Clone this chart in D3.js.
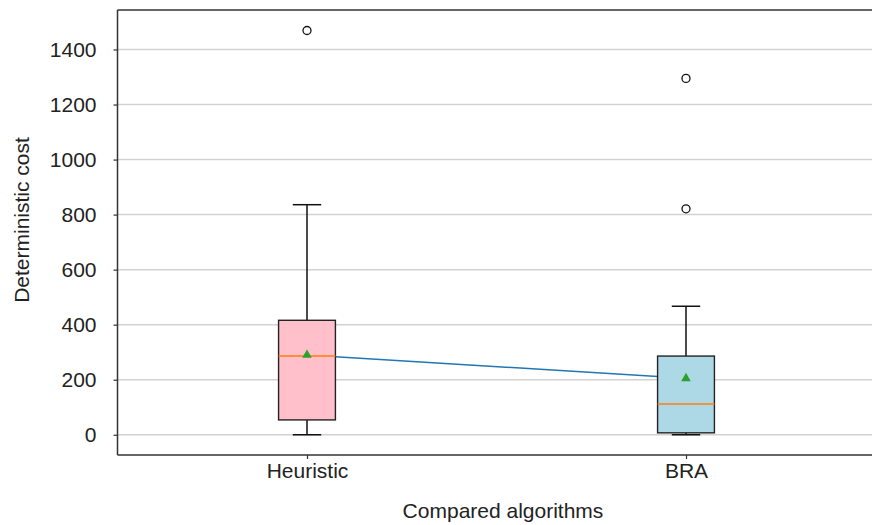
<!DOCTYPE html>
<html>
<head>
<meta charset="utf-8">
<script src="https://cdnjs.cloudflare.com/ajax/libs/d3/7.8.5/d3.min.js"></script>
<style>
  body { margin: 0; background: #fff; }
  svg { display: block; font-family: "Liberation Sans", Arial, sans-serif; }
</style>
</head>
<body>
<svg id="chart" width="872" height="525"></svg>
<script>
// box stats
var algorithms = ["Heuristic", "BRA"];
var whiskerLow = [0, 0];
var q1 = [54, 7];
var medians = [286, 112];
var q3 = [416, 286];
var whiskerHigh = [836, 467];
var means = [290, 205];
var outliers = [[1469], [1295, 821]];
var boxColours = ["#ffc0cb", "#add8e6"];
var yTicks = [0, 200, 400, 600, 800, 1000, 1200, 1400];

var svg = d3.select("#chart"),
  margin = { left: 117.5, top: 10, right: -3.5, bottom: 70 },
  width = 872 - margin.left - margin.right,
  height = 525 - margin.top - margin.bottom;

var g = svg.append("g").attr("transform", "translate(" + margin.left + "," + margin.top + ")");

var x = d3.scaleLinear().domain([0.5, 2.5]).range([0, width]);
var y = d3.scaleLinear().domain([-73.5, 1543.5]).range([height, 0]);
var boxW = x(1.15) - x(1);
var capW = boxW / 2;

// grid
g.append("g")
  .selectAll("line")
  .data(yTicks)
  .join("line")
  .attr("x1", 0)
  .attr("x2", width)
  .attr("y1", d => y(d))
  .attr("y2", d => y(d))
  .attr("stroke", "#d2d2d2")
  .attr("stroke-width", 1.5);

// y axis
var yAxis = g.append("g").call(d3.axisLeft(y).tickValues(yTicks).tickSize(4).tickPadding(17).tickFormat(d3.format("d")));
yAxis.select(".domain").remove();
yAxis.selectAll("line").attr("stroke", "#333").attr("stroke-width", 1.2);
yAxis.selectAll("text").attr("font-size", 21).attr("fill", "#222").attr("font-family", "Liberation Sans, Arial, sans-serif");

// x axis
var xAxis = g.append("g")
  .attr("transform", "translate(0," + height + ")")
  .call(d3.axisBottom(x).tickValues([1, 2]).tickSize(4).tickPadding(4).tickFormat(d => algorithms[d - 1]));
xAxis.select(".domain").remove();
xAxis.selectAll("line").attr("stroke", "#333").attr("stroke-width", 1.2);
xAxis.selectAll("text").attr("font-size", 21).attr("fill", "#222").attr("font-family", "Liberation Sans, Arial, sans-serif");

// mean line
var meanLine = d3.line().x((d, i) => x(i + 1)).y(d => y(d));
g.append("path")
  .datum(means)
  .attr("d", meanLine)
  .attr("fill", "none")
  .attr("stroke", "#1f77b4")
  .attr("stroke-width", 1.5);

// boxes
algorithms.forEach((name, i) => {
  var cx = x(i + 1);
  var bg = g.append("g");
  // whiskers
  bg.append("line").attr("x1", cx).attr("x2", cx).attr("y1", y(q3[i])).attr("y2", y(whiskerHigh[i]))
    .attr("stroke", "#111").attr("stroke-width", 1.5);
  bg.append("line").attr("x1", cx).attr("x2", cx).attr("y1", y(q1[i])).attr("y2", y(whiskerLow[i]))
    .attr("stroke", "#111").attr("stroke-width", 1.5);
  [whiskerLow[i], whiskerHigh[i]].forEach(v => {
    bg.append("line").attr("x1", cx - capW / 2).attr("x2", cx + capW / 2).attr("y1", y(v)).attr("y2", y(v))
      .attr("stroke", "#111").attr("stroke-width", 1.5);
  });
  bg.append("rect")
    .attr("x", cx - boxW / 2)
    .attr("y", y(q3[i]))
    .attr("width", boxW)
    .attr("height", y(q1[i]) - y(q3[i]))
    .attr("fill", boxColours[i])
    .attr("stroke", "#222")
    .attr("stroke-width", 1.4);
  bg.append("line").attr("x1", cx - boxW / 2).attr("x2", cx + boxW / 2).attr("y1", y(medians[i])).attr("y2", y(medians[i]))
    .attr("stroke", "#ff7f0e").attr("stroke-width", 1.5);
  bg.append("path")
    .attr("d", d3.symbol().type(d3.symbolTriangle).size(40))
    .attr("transform", "translate(" + cx + "," + y(means[i]) + ")")
    .attr("fill", "#2ca02c");
  bg.selectAll("circle.flier")
    .data(outliers[i])
    .join("circle")
    .attr("class", "flier")
    .attr("cx", cx)
    .attr("cy", d => y(d))
    .attr("r", 4)
    .attr("fill", "none")
    .attr("stroke", "#111")
    .attr("stroke-width", 1.3);
});

// spines (left, top, bottom)
g.append("line").attr("x1", 0).attr("x2", 0).attr("y1", 0).attr("y2", height).attr("stroke", "#333").attr("stroke-width", 1.5);
g.append("line").attr("x1", 0).attr("x2", width).attr("y1", 0).attr("y2", 0).attr("stroke", "#333").attr("stroke-width", 1.5);
g.append("line").attr("x1", 0).attr("x2", width).attr("y1", height).attr("y2", height).attr("stroke", "#333").attr("stroke-width", 1.5);

// labels
svg.append("text")
  .attr("x", 503)
  .attr("y", 518)
  .attr("text-anchor", "middle")
  .attr("font-size", 21)
  .attr("fill", "#222")
  .text("Compared algorithms");
svg.append("text")
  .attr("transform", "translate(28.5,220) rotate(-90)")
  .attr("text-anchor", "middle")
  .attr("font-size", 21)
  .attr("fill", "#222")
  .text("Deterministic cost");
</script>
</body>
</html>
